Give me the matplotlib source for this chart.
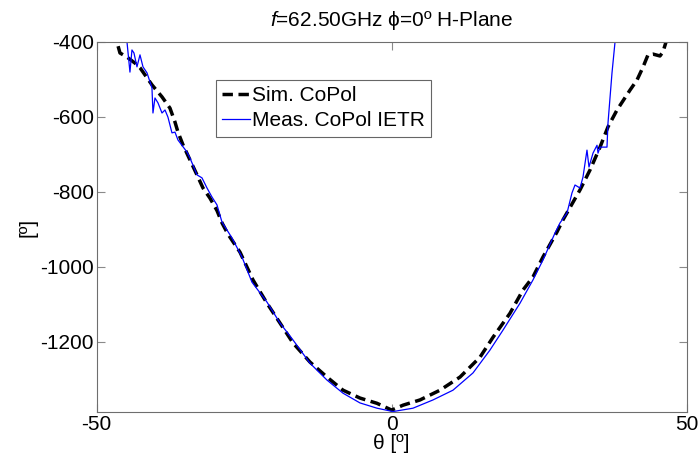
import matplotlib
matplotlib.use('Agg')
import matplotlib.pyplot as plt

plt.rcParams['font.family'] = ['Liberation Sans', 'DejaVu Sans']
plt.rcParams['mathtext.fontset'] = 'custom'
plt.rcParams['mathtext.it'] = 'Liberation Sans:italic'
plt.rcParams['mathtext.rm'] = 'Liberation Sans'
plt.rcParams['axes.unicode_minus'] = False

# simulated co-polar phase
sim_theta = [-46.8, -46.56, -46.05, -44.86, -43.51, -42.63, -40.63, -38.93, -37.58, -36.73,
             -36.22, -35.37, -34.19, -33.00, -31.98, -30.80, -29.61, -28.76, -27.75, -25.71,
             -23.51, -21.14, -18.93, -16.73, -13.85, -10.97, -8.25, -5.37, -2.49, 0.0,
             1.92, 4.80, 8.19, 11.58, 14.97, 17.17, 20.05, 22.25, 23.95, 25.64,
             28.02, 29.03, 31.92, 33.61, 35.31, 36.66, 38.19, 40.39, 41.58, 42.59,
             43.44, 44.29, 45.47, 45.98, 46.49, 46.7]
sim_phase = [-370, -401, -430, -441, -457, -470, -515, -547, -577, -614,
             -641, -675, -715, -755, -790, -817, -850, -883, -913, -961,
             -1035, -1097, -1150, -1203, -1254, -1294, -1329, -1350, -1364, -1382,
             -1369, -1355, -1329, -1294, -1241, -1188, -1124, -1062, -1027, -974,
             -907, -875, -795, -742, -681, -627, -582, -529, -502, -468,
             -435, -433, -438, -427, -401, -370]

# measured co-polar phase, IETR
meas_theta = [-45.2, -44.86, -44.36, -44.02, -43.68, -43.17, -42.66, -42.15, -41.47, -40.63,
              -40.46, -40.12, -39.61, -38.93, -38.42, -37.92, -37.24, -36.73, -36.22, -34.70,
              -34.19, -33.68, -33.00, -32.15, -31.30, -30.46, -29.61, -28.76, -27.07, -25.37,
              -23.68, -21.14, -18.93, -16.73, -13.85, -10.97, -8.25, -5.37, -2.49, 0.22,
              3.61, 7.00, 10.39, 13.78, 16.66, 18.86, 21.75, 23.95, 25.64, 27.68,
              28.53, 29.71, 30.56, 31.07, 31.92, 32.42, 33.10, 33.44, 34.12, 34.80,
              34.97, 35.31, 36.49, 36.66, 37.34, 37.85, 38.2]
meas_phase = [-350, -401, -481, -422, -430, -467, -435, -467, -483, -523,
              -590, -550, -563, -590, -582, -601, -643, -641, -662, -694,
              -710, -729, -755, -763, -790, -814, -835, -881, -923, -974,
              -1041, -1094, -1150, -1195, -1257, -1302, -1337, -1363, -1377, -1386,
              -1377, -1355, -1329, -1283, -1222, -1169, -1097, -1035, -982, -910,
              -883, -857, -803, -782, -790, -761, -689, -734, -697, -676,
              -697, -681, -681, -617, -483, -401, -300]

fig = plt.figure(figsize=(6.99, 4.61), dpi=100)
ax = fig.add_axes([0.1383, 0.1056, 0.8441, 0.8039])

ax.plot(sim_theta, sim_phase, 'k--', linewidth=2.5, dashes=(3, 1.6), label='Sim. CoPol')
ax.plot(meas_theta, meas_phase, color='#0000ff', linewidth=0.9, label='Meas. CoPol IETR')

ax.set_xlim(-50, 50)
ax.set_ylim(-1388, -400)
ax.set_xticks([-50, 0, 50])
ax.set_yticks([-1200, -1000, -800, -600, -400])

for s in ax.spines.values():
    s.set_color('#6e6e6e')
ax.tick_params(direction='in', length=6, color='#8a8a8a', labelsize=15,
               top=True, right=True, pad=2)

ax.set_title(r'$\mathit{f}$=62.50GHz ϕ=0º H-Plane', fontsize=15, pad=11)
ax.set_xlabel('θ [º]', fontsize=15, labelpad=0)
ax.set_ylabel('[º]', fontsize=15, labelpad=2)

leg = ax.legend(loc='upper left', bbox_to_anchor=(0.202, 0.897), borderaxespad=0,
                fontsize=15, frameon=True, fancybox=False, handlelength=1.35,
                handletextpad=0.1, borderpad=0.3, labelspacing=0.3)
leg.get_frame().set_edgecolor('#404040')
leg.get_frame().set_linewidth(0.8)

fig.savefig('out.png', dpi=100)
